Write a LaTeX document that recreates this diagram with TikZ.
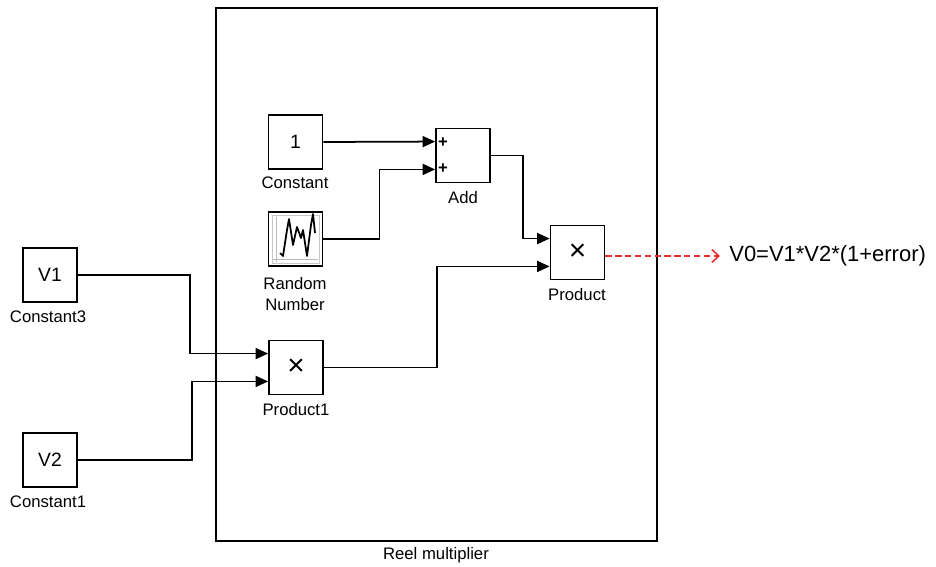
\documentclass[tikz,border=0pt]{standalone}
\usepackage{fontspec}
\setmainfont{Liberation Sans}
\usetikzlibrary{arrows.meta, positioning, calc}
\definecolor{errred}{RGB}{235,45,45}
\tikzset{
    blocknode/.style={rectangle, draw, line width=1pt, minimum size=1.08cm, inner sep=1pt, font=\fontsize{11}{13}\selectfont},
    labelnode/.style={inner sep=0pt, align=center, font=\fontsize{9.5}{11.5}\selectfont},
    framenode/.style={rectangle, draw, line width=1pt, minimum width=8.82cm, minimum height=10.66cm},
    signal/.style={line width=1pt, -{Triangle[length=2.5mm, width=2.2mm]}},
    errorline/.style={errred, line width=0.9pt, dash pattern=on 3.6pt off 2pt, -{Straight Barb[length=1.4mm, width=2.6mm]}},
    signnode/.style={inner sep=0pt, font=\fontsize{9.5}{10}\selectfont\bfseries},
    timesnode/.style={blocknode, font=\fontsize{17}{18}\selectfont}
}
\begin{document}
\begin{tikzpicture}[x=0.02cm, y=-0.02cm]
  \useasboundingbox (0,0) rectangle (936,567);
  \node[framenode] (sub) at (436.5, 274.5) {};
  \node[labelnode] (sub-lbl) at (436, 555) {Reel multiplier};
  \node[blocknode] (const) at (295.5, 142) {1};
  \node[blocknode] (rnd) at (295.5, 239) {};
  \node[blocknode] (add) at (463, 155.5) {};
  \node[timesnode] (prod) at (577.5, 252.5) {×};
  \node[timesnode] (prod1) at (296, 367.5) {×};
  \node[blocknode] (v1) at (50, 275) {V1};
  \node[blocknode] (v2) at (50, 460) {V2};
  \node[labelnode] (const-lbl) at (295, 183) {Constant};
  \node[labelnode] (rnd-lbl) at (295, 294) {Random\\Number};
  \node[labelnode] (add-lbl) at (463, 198) {Add};
  \node[labelnode] (prod-lbl) at (577, 295) {Product};
  \node[labelnode] (prod1-lbl) at (296, 410) {Product1};
  \node[labelnode] (v1-lbl) at (48, 317) {Constant3};
  \node[labelnode] (v2-lbl) at (48, 502) {Constant1};
  \node[signnode] (add-p1) at (443, 143) {+};
  \node[signnode] (add-p2) at (443, 169) {+};
  \node[inner sep=0pt, anchor=west, font=\fontsize{12.5}{15}\selectfont] (eq) at (729, 256) {V0=V1*V2*(1+error)};
  \draw[gray!45, line width=0.4pt] (272, 215) rectangle (319.5, 263);
  \draw[gray!55, line width=0.5pt] (276, 217) -- (276, 262) (273, 259) -- (318, 259);
  \draw[line width=1pt, line join=round] (280, 253) -- (283, 256) -- (287, 230) -- (289, 219) -- (293, 245) -- (297, 227) -- (301, 238) -- (303, 230) -- (307, 256) -- (311, 225) -- (313, 214) -- (315, 233);
  \coordinate (add-in1) at ($(add.north west)!0.25!(add.south west)$);
  \coordinate (add-in2) at ($(add.north west)!0.75!(add.south west)$);
  \coordinate (prod-in1) at ($(prod.north west)!0.25!(prod.south west)$);
  \coordinate (prod-in2) at ($(prod.north west)!0.75!(prod.south west)$);
  \coordinate (prod1-in1) at ($(prod1.north west)!0.25!(prod1.south west)$);
  \coordinate (prod1-in2) at ($(prod1.north west)!0.75!(prod1.south west)$);
  \coordinate (eq-end) at (720, 256);
  \draw[signal] (const.east) -- (add-in1);
  \draw[signal] (rnd.east) -- ++(56, 0) |- (add-in2);
  \draw[signal] (add.east) -- ++(32, 0) |- (prod-in1);
  \draw[signal] (v1.east) -- ++(112, 0) |- (prod1-in1);
  \draw[signal] (v2.east) -- ++(114, 0) |- (prod1-in2);
  \draw[signal] (prod1.east) -- ++(113, 0) |- (prod-in2);
  \draw[errorline] (prod.east |- eq-end) -- (eq-end);
\end{tikzpicture}
\end{document}
